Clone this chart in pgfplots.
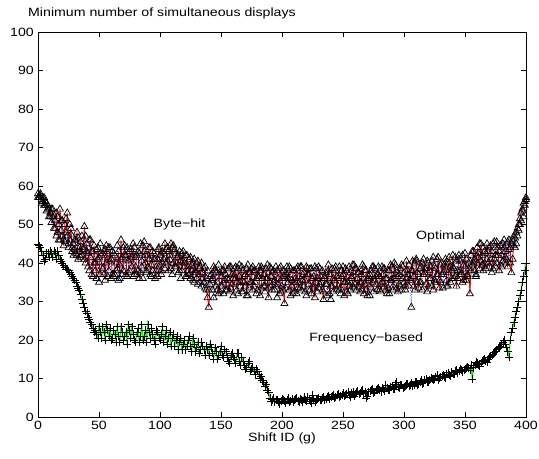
\documentclass[border=0pt]{standalone}
\usepackage{pgfplots}
\pgfplotsset{compat=1.18}
\usepackage{fontspec}
\setmainfont{Liberation Sans}[FakeStretch=1.18]
\begin{document}
\fontsize{12}{14}\selectfont
\begin{tikzpicture}
\begin{axis}[
  name=ax,
  width=488pt, height=385pt, scale only axis,
  xmin=0, xmax=400, ymin=0, ymax=100,
  xtick={0,50,...,400}, ytick={0,10,...,100},
  tick align=inside, major tick length=5pt,
  tick style={black, line width=0.5pt},
  axis line style={black, line width=0.6pt},
  /pgf/number format/assume math mode=true,
  tick label style={font=\fontsize{12}{14}\selectfont},
  xlabel={Shift ID (g)},
  xlabel style={font=\fontsize{12}{14}\selectfont, yshift=5pt},
  clip=false,
]
% Byte-hit (red line, triangles)
\addplot[red, line width=0.8pt, mark=triangle, mark size=4pt, mark options={black, solid, line width=0.7pt}] coordinates {
(0,58)(1,57)(2,57.5)(3,56.5)(4,57)(5,55)(6,56)(7,55.5)(8,54)(9,52)(10,53)(11,54)(12,52)(13,49)(14,51)(15,53)(16,48)(17,46)(18,54)(19,51)(20,47)(21,44.5)(22,50)(23,48)(24,53)(25,45)(26,46)(27,49)(28,44)(29,42)(30,43.5)(31,46)(32,48)(33,41)(34,43)(35,45.5)(36,42)(37,44)(38,49.5)(39,40)(40,45)(41,42.5)(42,38)(43,46)(44,43)(45,36.5)(46,44.5)(47,40)(48,36)(49,44)(50,41.5)(51,37)(52,39)(53,42.5)(54,43)(55,35.5)(56,44.5)(57,41)(58,38)(59,44)(60,41)(61,37)(62,36.5)(63,42)(64,40)(65,38.5)(66,43)(67,36)(68,46)(69,41.5)(70,38)(71,44.5)(72,42)(73,36.5)(74,37.5)(75,43)(76,41)(77,39)(78,45)(79,37)(80,39)(81,42)(82,43)(83,36)(84,37.5)(85,40.5)(86,44.5)(87,43)(88,40)(89,37.5)(90,42)(91,44)(92,37)(93,39.5)(94,43)(95,41)(96,36)(97,38)(98,41)(99,43.5)
(100,39.5)(101,37)(102,43)(103,41)(104,45)(105,43.5)(106,40.5)(107,38)(108,42)(109,45)(110,44)(111,40)(112,39)(113,42.5)(114,41.5)(115,37.5)(116,43)(117,40.5)(118,38)(119,43)(120,40)(121,36.5)(122,42)(123,39)(124,37)(125,41.5)(126,39.5)(127,35.5)(128,41)(129,38)(130,36)(131,40.5)(132,38.5)(133,35)(134,40)(135,37.5)(136,35)(137,39)(138,33)(139,31)(140,28.5)(141,34.5)(142,37)(143,36)(144,39)(145,38.5)(146,34)(147,33)(148,32)(149,37.5)(150,36.5)(151,34)(152,38)(153,39)(154,33)(155,36)(156,35.5)(157,32.5)(158,39)(159,37)(160,31.5)(161,38.5)(162,36)(163,33)(164,38.5)(165,36.5)(166,34)(167,39)(168,32.5)(169,35)(170,37)(171,31.5)(172,39.5)(173,37.5)(174,35)(175,38.5)(176,33)(177,34)(178,38)(179,36)(180,36.5)(181,39)(182,31.5)(183,33.5)(184,38.5)(185,37)(186,34)(187,38.5)(188,36)(189,31)(190,39)(191,36.5)(192,33)(193,38)(194,35.5)(195,34)(196,38)(197,36)(198,32)(199,39)
(200,36)(201,33)(202,29.5)(203,37.5)(204,37)(205,35)(206,39)(207,31.5)(208,34)(209,38)(210,32.5)(211,36)(212,38.5)(213,33.5)(214,35)(215,39)(216,33)(217,35.5)(218,37.5)(219,32.5)(220,39)(221,37)(222,34.5)(223,38.5)(224,32)(225,34)(226,36.5)(227,31)(228,38.5)(229,36)(230,33.5)(231,38.5)(232,35)(233,33)(234,30.5)(235,36.5)(236,37.5)(237,34.5)(238,39.5)(239,32)(240,34)(241,38.5)(242,32.5)(243,35.5)(244,38)(245,33)(246,36)(247,39)(248,33.5)(249,36.5)(250,39)(251,31.5)(252,35)(253,38)(254,32)(255,34)(256,37.5)(257,36)(258,34)(259,39.5)(260,38.5)(261,33)(262,36)(263,37.5)(264,32.5)(265,35)(266,39.5)(267,32)(268,34.5)(269,38)(270,31.5)(271,36.5)(272,37)(273,33.5)(274,35)(275,39)(276,38.5)(277,34.5)(278,33)(279,37)(280,36.5)(281,32.5)(282,39)(283,38.5)(284,34)(285,36)(286,32)(287,33.5)(288,38)(289,39.5)(290,35.5)(291,34)(292,40)(293,37)(294,33.5)(295,32.5)(296,37)(297,38.5)(298,39.5)(299,36)
(300,35)(301,33)(302,40.5)(303,38)(304,34)(305,36)(306,38)(307,40.5)(308,36.5)(309,33)(310,41)(311,37.5)(312,33.5)(313,35)(314,39)(315,40)(316,37)(317,38.5)(318,34.5)(319,32.5)(320,40)(321,38)(322,36)(323,40.5)(324,33)(325,35.5)(326,38.5)(327,37)(328,41.5)(329,33.5)(330,35)(331,40)(332,37.5)(333,38)(334,40)(335,35.5)(336,34)(337,41.5)(338,39)(339,36)(340,42)(341,38.5)(342,36.5)(343,34)(344,38)(345,41)(346,40.5)(347,37.5)(348,35)(349,39.5)(350,42.5)(351,35.5)(352,37)(353,40)(354,32)(355,38)(356,39.5)(357,43)(358,41)(359,37)(360,44)(361,41.5)(362,38.5)(363,45)(364,42)(365,38)(366,40)(367,42.5)(368,45)(369,40)(370,39)(371,44.5)(372,43)(373,38.5)(374,41)(375,42)(376,45.5)(377,44)(378,38)(379,39.5)(380,42)(381,45)(382,44)(383,41.5)(384,40)(385,39)(386,46)(387,44)(388,37.5)(389,41)(390,44.5)(391,46.5)(392,48)(393,49)(394,50)(395,51.5)(396,53)(397,54)(398,55.5)(399,56)(400,57)
};
% Optimal (blue dotted, triangles)
\addplot[blue, dotted, line width=0.7pt, mark=triangle, mark size=4pt, mark options={black, solid, line width=0.7pt}] coordinates {
(0,57)(1,57.5)(2,58)(3,55.5)(4,56)(5,57)(6,55)(7,53.5)(8,55)(9,54)(10,52)(11,50.5)(12,54)(13,52.5)(14,49)(15,47)(16,52)(17,50)(18,46)(19,48.5)(20,51)(21,46)(22,45.5)(23,51.5)(24,47)(25,44)(26,50)(27,47.5)(28,43)(29,45)(30,46)(31,42.5)(32,42)(33,46.5)(34,44)(35,41.5)(36,47)(37,43.5)(38,41)(39,47)(40,43)(41,39)(42,46)(43,41.5)(44,37)(45,43)(46,40)(47,38)(48,43.5)(49,41)(50,35)(51,45)(52,42)(53,38.5)(54,37)(55,43.5)(56,40)(57,36.5)(58,44)(59,40.5)(60,36)(61,43)(62,42.5)(63,37)(64,38)(65,44.5)(66,35.5)(67,39.5)(68,41)(69,37)(70,44)(71,42)(72,37)(73,44)(74,40.5)(75,38)(76,43.5)(77,41.5)(78,36.5)(79,44)(80,41.5)(81,37)(82,38)(83,42.5)(84,45)(85,39)(86,36)(87,45.5)(88,42)(89,38)(90,39)(91,41)(92,44)(93,36.5)(94,38)(95,42.5)(96,41)(97,39)(98,36.5)(99,44)
(100,42)(101,38)(102,40)(103,42.5)(104,38.5)(105,40)(106,44)(107,43)(108,41)(109,38.5)(110,37)(111,44.5)(112,43.5)(113,39)(114,40)(115,42)(116,38)(117,36)(118,42.5)(119,40.5)(120,39)(121,42)(122,36.5)(123,38)(124,41)(125,36)(126,38)(127,40)(128,35)(129,37.5)(130,40)(131,34.5)(132,37)(133,39)(134,34)(135,36)(136,38.5)(137,33.5)(138,36)(139,38)(140,33)(141,36.5)(142,35.5)(143,33)(144,31)(145,38)(146,37.5)(147,35)(148,39.5)(149,32.5)(150,34)(151,38)(152,32)(153,35.5)(154,37)(155,33)(156,38.5)(157,39)(158,33.5)(159,34.5)(160,36)(161,37)(162,39)(163,35)(164,32)(165,39.5)(166,35)(167,32.5)(168,38)(169,36.5)(170,34)(171,38.5)(172,31.5)(173,33.5)(174,37.5)(175,35)(176,39)(177,38)(178,35)(179,32)(180,33)(181,36.5)(182,38)(183,39)(184,36)(185,34)(186,32.5)(187,36)(188,39.5)(189,33.5)(190,35)(191,38.5)(192,37.5)(193,35)(194,33)(195,39)(196,31)(197,34.5)(198,38.5)(199,32.5)
(200,34)(201,38)(202,36.5)(203,33.5)(204,39)(205,36)(206,33)(207,38.5)(208,35.5)(209,32)(210,38)(211,35)(212,32)(213,39)(214,36.5)(215,33.5)(216,39)(217,37)(218,34)(219,35.5)(220,31.5)(221,38.5)(222,37)(223,33)(224,38.5)(225,36)(226,33.5)(227,39)(228,35)(229,32.5)(230,39)(231,34.5)(232,36.5)(233,38)(234,32.5)(235,36)(236,34.5)(237,31.5)(238,38)(239,37)(240,30.5)(241,34)(242,36)(243,38.5)(244,39)(245,36.5)(246,34)(247,33)(248,32)(249,38)(250,37)(251,35)(252,38.5)(253,32.5)(254,35)(255,39)(256,33)(257,36.5)(258,39.5)(259,33.5)(260,34.5)(261,38.5)(262,37.5)(263,34)(264,35)(265,37)(266,33)(267,39)(268,38)(269,33)(270,36)(271,35.5)(272,31.5)(273,38)(274,39)(275,32.5)(276,35.5)(277,36.5)(278,37)(279,39)(280,33)(281,34.5)(282,35)(283,37)(284,38.5)(285,33)(286,36)(287,38)(288,32)(289,35.5)(290,39)(291,33)(292,36)(293,39.5)(294,38)(295,36.5)(296,34.5)(297,34)(298,33)(299,39)
(300,37.5)(301,34)(302,36)(303,37)(304,39.5)(305,35.5)(306,28.5)(307,38)(308,34)(309,40)(310,40.5)(311,35)(312,37)(313,38.5)(314,35)(315,33)(316,41)(317,37.5)(318,38.5)(319,40.5)(320,34)(321,36)(322,39)(323,34)(324,41.5)(325,39)(326,35)(327,41)(328,37)(329,35.5)(330,39.5)(331,37)(332,33.5)(333,39.5)(334,41)(335,34)(336,37.5)(337,40)(338,35)(339,38)(340,39)(341,36)(342,41.5)(343,40.5)(344,36)(345,42)(346,38)(347,37)(348,42)(349,35.5)(350,39)(351,41)(352,36.5)(353,38.5)(354,40.5)(355,42)(356,43)(357,40)(358,38)(359,36.5)(360,40)(361,42.5)(362,45)(363,40.5)(364,39.5)(365,44)(366,43)(367,38.5)(368,41)(369,43)(370,44)(371,41)(372,37.5)(373,45)(374,45.5)(375,39)(376,40)(377,42)(378,43)(379,44.5)(380,39)(381,40.5)(382,46)(383,43)(384,41)(385,45.5)(386,43.5)(387,40)(388,45)(389,46)(390,47)(391,44)(392,45)(393,47)(394,48.5)(395,50)(396,51)(397,53.5)(398,52)(399,55)(400,56.5)
};
% Frequency-based (green, plus)
\addplot[green, line width=1.2pt, mark=+, mark size=4pt, mark options={black, solid, line width=0.5pt}] coordinates {
(0,45)(1,44.5)(2,44)(3,43)(4,42)(5,40.5)(6,41)(7,42.5)(8,42.5)(9,41.5)(10,43)(11,42.5)(12,41.5)(13,43)(14,42.5)(15,41)(16,43)(17,42)(18,41)(19,40.5)(20,40)(21,39.5)(22,39)(23,38.5)(24,38.5)(25,38)(26,37.5)(27,37)(28,36.5)(29,36)(30,35.5)(31,35)(32,34)(33,33.5)(34,33)(35,32)(36,30.5)(37,29.5)(38,28.5)(39,27.5)(40,27)(41,26)(42,25.5)(43,24.5)(44,24)(45,23)(46,22)(47,22.5)(48,21.5)(49,20.5)(50,23.5)(51,22)(52,20.5)(53,23.5)(54,22)(55,20)(56,24)(57,22.5)(58,21)(59,23)(60,20)(61,20.5)(62,22.5)(63,21.5)(64,19.5)(65,23.5)(66,21)(67,19.5)(68,23.5)(69,22)(70,20)(71,21)(72,22)(73,19)(74,24)(75,22.5)(76,20.5)(77,23.5)(78,21.5)(79,20)(80,19.5)(81,22)(82,23)(83,19.5)(84,21)(85,24)(86,20)(87,21)(88,22.5)(89,19.5)(90,24)(91,22)(92,20.5)(93,23)(94,21.5)(95,20)(96,19)(97,22.5)(98,22)(99,20.5)
(100,20)(101,21.5)(102,23.5)(103,19.5)(104,21)(105,22.5)(106,19)(107,20.5)(108,22)(109,18.5)(110,20.5)(111,21.5)(112,18.5)(113,20)(114,21)(115,17.5)(116,19.5)(117,20.5)(118,17.5)(119,19)(120,20)(121,17.5)(122,18.5)(123,20)(124,21)(125,18.5)(126,17)(127,20.5)(128,19)(129,17)(130,18)(131,19.5)(132,16.5)(133,17.5)(134,19.5)(135,18.5)(136,17.5)(137,16)(138,18.5)(139,17.5)(140,16)(141,19)(142,18)(143,16.5)(144,15)(145,18)(146,17)(147,15)(148,16)(149,17)(150,18.5)(151,16)(152,15.5)(153,17.5)(154,17)(155,15.5)(156,14.5)(157,14)(158,16)(159,16.5)(160,15.5)(161,15)(162,14)(163,16.5)(164,16.5)(165,14.5)(166,13.5)(167,15.5)(168,14.5)(169,13.5)(170,12.5)(171,13)(172,14)(173,14.5)(174,12)(175,12.5)(176,13)(177,12)(178,11)(179,12.5)(180,12)(181,11)(182,10)(183,10.5)(184,9.5)(185,9)(186,8)(187,8.5)(188,7)(189,6.5)(190,5)(191,4)(192,4.5)(193,5)(194,4)(195,4.5)(196,4.5)(197,3.8)(198,3.5)(199,4.2)
(200,4.8)(201,4.5)(202,4.2)(203,3.7)(204,4.5)(205,4.9)(206,3.8)(207,4.2)(208,4.6)(209,4)(210,4.3)(211,4.7)(212,5)(213,4.1)(214,4)(215,4.8)(216,4.4)(217,3.8)(218,5.2)(219,4.5)(220,4.1)(221,5.1)(222,4.6)(223,4.2)(224,3.6)(225,5.6)(226,4.8)(227,4)(228,4.3)(229,4.7)(230,5)(231,4.3)(232,4.5)(233,4.9)(234,5.3)(235,4.4)(236,4.7)(237,5.1)(238,5.5)(239,4.6)(240,5.1)(241,5.4)(242,5.8)(243,4.9)(244,5.3)(245,5.6)(246,6)(247,5.2)(248,5.5)(249,5.8)(250,6.2)(251,5.4)(252,5.7)(253,6.1)(254,6.4)(255,5.6)(256,5.2)(257,6.3)(258,6.6)(259,5.4)(260,6)(261,6.5)(262,6.8)(263,5.9)(264,6.2)(265,6.7)(266,7)(267,6.1)(268,6.4)(269,5)(270,5.5)(271,6.6)(272,6.8)(273,7.1)(274,7.2)(275,6.3)(276,6.5)(277,6.9)(278,7.4)(279,7.5)(280,6.9)(281,6.6)(282,7.6)(283,7.3)(284,6.8)(285,8.2)(286,7.5)(287,7)(288,7.1)(289,7.7)(290,8)(291,7.4)(292,7.3)(293,8.5)(294,9)(295,7.9)(296,7.6)(297,8.4)(298,8.2)(299,7.5)
(300,7.8)(301,8.1)(302,8.5)(303,8.7)(304,8)(305,8.3)(306,8.8)(307,8.1)(308,8.3)(309,9)(310,9.2)(311,8.4)(312,8.6)(313,9.1)(314,9.5)(315,8.7)(316,8.9)(317,9.6)(318,9.8)(319,9)(320,9.2)(321,9.7)(322,10.2)(323,10)(324,9.5)(325,9.8)(326,10.5)(327,10.9)(328,9.6)(329,10.1)(330,10.3)(331,10.6)(332,11)(333,10.4)(334,10.2)(335,11.2)(336,11.5)(337,10.8)(338,10.6)(339,11.6)(340,11.2)(341,11.1)(342,12)(343,12.2)(344,11.5)(345,11.9)(346,12.4)(347,12.1)(348,11.8)(349,12.3)(350,12.5)(351,12.8)(352,13)(353,12.6)(354,12.2)(355,13.5)(356,9.8)(357,12.8)(358,13.5)(359,14.2)(360,14)(361,13.6)(362,13.2)(363,14)(364,14.5)(365,14.8)(366,15)(367,14.6)(368,14.2)(369,15)(370,15.5)(371,15.8)(372,16)(373,16.4)(374,16.8)(375,17)(376,17.5)(377,17.9)(378,18.2)(379,18.5)(380,19)(381,19.5)(382,20)(383,19)(384,18)(385,17)(386,15.5)(387,20)(388,22)(389,23)(390,24.5)(391,26)(392,27.5)(393,28.5)(394,30)(395,31.5)(396,33)(397,35)(398,36.5)(399,38)(400,40)
};
\node[anchor=center, font=\fontsize{12}{14}\selectfont] at (axis cs:116,49.9) {Byte−hit};
\node[anchor=center, font=\fontsize{12}{14}\selectfont] at (axis cs:330,46.8) {Optimal};
\node[anchor=center, font=\fontsize{12}{14}\selectfont] at (axis cs:269,20.5) {Frequency−based};
\node[anchor=base west, inner sep=0pt, font=\fontsize{12}{14}\selectfont] at ([xshift=-10pt, yshift=15pt]rel axis cs:0,1) {Minimum number of simultaneous displays};
\end{axis}
\pgfresetboundingbox
\path[use as bounding box] ([shift={(-38pt,-41pt)}]ax.south west) rectangle ([shift={(13pt,32pt)}]ax.north east);
\end{tikzpicture}
\end{document}
